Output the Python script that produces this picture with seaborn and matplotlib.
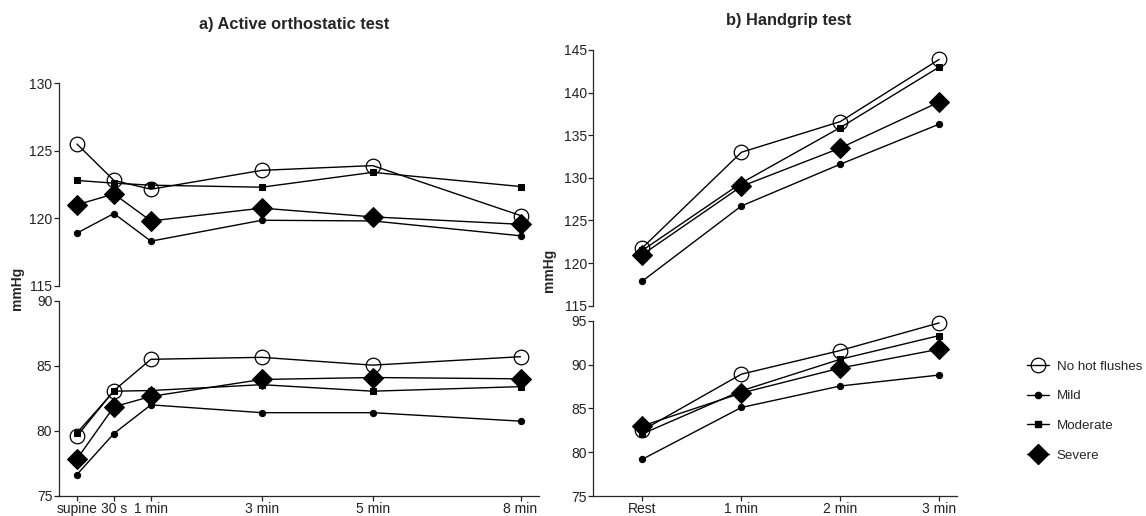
import matplotlib
matplotlib.use("Agg")
import matplotlib.pyplot as plt
import seaborn as sns
import pandas as pd
from matplotlib.lines import Line2D

# ---- data ----
groups = ["No hot flushes", "Mild", "Moderate", "Severe"]

ortho_labels = ["supine", "30 s", "1 min", "3 min", "5 min", "8 min"]
ortho_pos = [0, 1, 2, 5, 8, 12]
ortho_sys = {
    "No hot flushes": [125.5, 122.8, 122.15, 123.55, 123.9, 120.2],
    "Mild": [118.9, 120.35, 118.3, 119.85, 119.8, 118.7],
    "Moderate": [122.8, 122.6, 122.45, 122.3, 123.4, 122.35],
    "Severe": [121.0, 121.8, 119.8, 120.75, 120.1, 119.55],
}
ortho_dia = {
    "No hot flushes": [79.6, 83.1, 85.5, 85.65, 85.05, 85.7],
    "Mild": [76.65, 79.8, 82.0, 81.4, 81.4, 80.75],
    "Moderate": [79.85, 83.05, 83.1, 83.55, 83.05, 83.4],
    "Severe": [77.85, 81.85, 82.65, 83.95, 84.1, 84.0],
}

grip_labels = ["Rest", "1 min", "2 min", "3 min"]
grip_pos = [0, 1, 2, 3]
grip_sys = {
    "No hot flushes": [121.8, 133.0, 136.6, 143.9],
    "Mild": [117.9, 126.7, 131.6, 136.3],
    "Moderate": [121.5, 129.4, 135.9, 143.0],
    "Severe": [121.0, 129.0, 133.5, 138.9],
}
grip_dia = {
    "No hot flushes": [82.5, 88.9, 91.6, 94.75],
    "Mild": [79.2, 85.1, 87.55, 88.8],
    "Moderate": [82.1, 87.0, 90.6, 93.3],
    "Severe": [83.0, 86.75, 89.6, 91.75],
}

# ---- styles ----
sns.set_theme(style="ticks")
plt.rcParams["font.family"] = ["Liberation Sans", "DejaVu Sans"]
plt.rcParams["axes.linewidth"] = 0.9
plt.rcParams["xtick.major.width"] = 0.9
plt.rcParams["ytick.major.width"] = 0.9
plt.rcParams["xtick.major.size"] = 3.5
plt.rcParams["ytick.major.size"] = 3.5
plt.rcParams["xtick.labelsize"] = 10
plt.rcParams["ytick.labelsize"] = 10
plt.rcParams["xtick.color"] = "#222222"
plt.rcParams["ytick.color"] = "#222222"

mstyle = {
    "No hot flushes": dict(marker="o", markersize=10.5, markerfacecolor="none",
                           markeredgecolor="black", markeredgewidth=0.9),
    "Mild": dict(marker="o", markersize=4.5, markerfacecolor="black",
                 markeredgecolor="black"),
    "Moderate": dict(marker="s", markersize=5, markerfacecolor="black",
                     markeredgecolor="black"),
    "Severe": dict(marker="D", markersize=10, markerfacecolor="black",
                   markeredgecolor="black"),
}

W, H = 1146, 516
fig = plt.figure(figsize=(W / 100, H / 100), dpi=100)


def ax_at(x0, x1, ytop, ybot):
    return fig.add_axes([x0 / W, 1 - ybot / H, (x1 - x0) / W, (ybot - ytop) / H])


def draw(ax, pos, data):
    for g in groups:
        df = pd.DataFrame({"x": pos, "y": data[g]})
        sns.lineplot(data=df, x="x", y="y", ax=ax, color="black", linewidth=1.0,
                     **mstyle[g])
    ax.set_xlabel("")
    ax.set_ylabel("")


# Left panel
axLu = ax_at(58.5, 539, 83.3, 285.7)
axLl = ax_at(58.5, 539, 300.7, 496)
draw(axLu, ortho_pos, ortho_sys)
draw(axLl, ortho_pos, ortho_dia)
axLu.set_ylim(115, 130)
axLu.set_yticks([115, 120, 125, 130])
axLl.set_ylim(75, 90)
axLl.set_yticks([75, 80, 85, 90])
for a in (axLu, axLl):
    a.set_xlim(-0.5, 12.5)
axLl.set_xticks(ortho_pos)
axLl.set_xticklabels(ortho_labels)

# Right panel
axRu = ax_at(593, 957, 50, 305.7)
axRl = ax_at(593, 957, 320.7, 496)
draw(axRu, grip_pos, grip_sys)
draw(axRl, grip_pos, grip_dia)
axRu.set_ylim(115, 145)
axRu.set_yticks([115, 120, 125, 130, 135, 140, 145])
axRl.set_ylim(75, 95)
axRl.set_yticks([75, 80, 85, 90, 95])
for a in (axRu, axRl):
    a.set_xlim(-0.5, 3.18)
axRl.set_xticks(grip_pos)
axRl.set_xticklabels(grip_labels)

for a in (axLu, axRu):
    sns.despine(ax=a, top=True, right=True, bottom=True)
    a.set_xticks([])
for a in (axLl, axRl):
    sns.despine(ax=a, top=True, right=True)
for a in (axLu, axLl, axRu, axRl):
    a.patch.set_alpha(0)
    a.tick_params(pad=1)
    for line in a.get_lines():
        line.set_clip_on(False)

# Titles and labels
fig.text(294 / W, 1 - 25 / H, "a) Active orthostatic test", ha="center", va="center",
         fontsize=11.8, fontweight="bold")
fig.text(789 / W, 1 - 20 / H, "b) Handgrip test", ha="center", va="center",
         fontsize=11.8, fontweight="bold")
fig.text(17 / W, 1 - 288 / H, "mmHg", rotation=90, ha="center", va="center",
         fontsize=10, fontweight="bold")
fig.text(549 / W, 1 - 270 / H, "mmHg", rotation=90, ha="center", va="center",
         fontsize=10, fontweight="bold")

# Legend
handles = [Line2D([0], [0], color="black", linewidth=1.0, **mstyle[g]) for g in groups]
fig.legend(handles, groups, loc="center left", bbox_to_anchor=(1022 / W, 1 - 411 / H),
           frameon=False, fontsize=9.6, handlelength=1.6, labelspacing=1.3,
           handletextpad=0.6, borderaxespad=0)

fig.savefig("out.png", dpi=100)
